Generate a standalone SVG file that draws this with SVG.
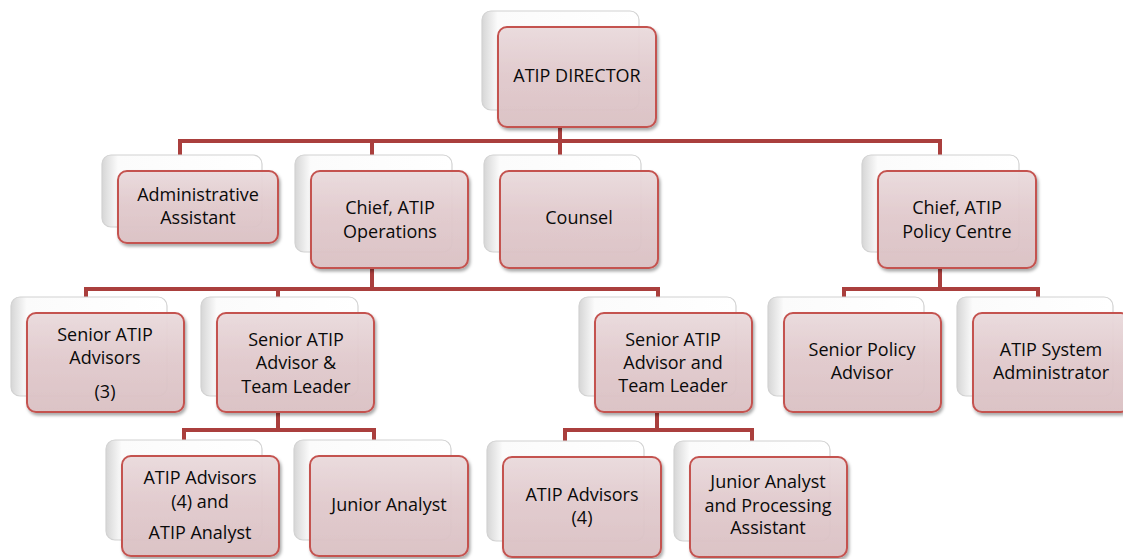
<svg xmlns="http://www.w3.org/2000/svg" width="1123" height="559" viewBox="0 0 1123 559">
<defs>
<linearGradient id="gFront" x1="0" y1="0" x2="0" y2="1">
<stop offset="0" stop-color="#ecdcde"/>
<stop offset="0.45" stop-color="#e3cccf"/>
<stop offset="1" stop-color="#dcc2c5"/>
</linearGradient>
<linearGradient id="gBack" x1="0" y1="0" x2="1" y2="0">
<stop offset="0" stop-color="#d6d6d6"/>
<stop offset="0.1" stop-color="#fbfbfb"/>
<stop offset="1" stop-color="#ffffff"/>
</linearGradient>
<filter id="sh" x="-10%" y="-10%" width="125%" height="130%">
<feDropShadow dx="1.5" dy="2.5" stdDeviation="1.8" flood-color="#000" flood-opacity="0.35"/>
</filter>
<style>
.back{fill:url(#gBack);stroke:#d2d2d2;stroke-width:1.2}
.front{fill:url(#gFront);fill-opacity:0.93;stroke:#c4524f;stroke-width:2;filter:url(#sh)}
.t{font-family:"Open Sans","Liberation Sans",sans-serif;font-size:18px;fill:#0a0a0a;text-anchor:middle}
.c{fill:none;stroke:#aa3f3d;stroke-width:4;stroke-linejoin:miter}
</style>
</defs>
<rect width="1123" height="559" fill="#ffffff"/>
<g id="connectors">
<path class="c" d="M560 127V141M180 155V141H940V155M372 141V155M560 141V155"/>
<path class="c" d="M372 268V289M86 297V289H658V297M278 289V297"/>
<path class="c" d="M940 268V289M844 297V289H1038V297"/>
<path class="c" d="M278 412V430M184 440V430H374V440"/>
<path class="c" d="M657 412V430M565 441V430H752V441"/>
</g>
<g id="n-director">
<rect class="back" x="482" y="11" width="157" height="99" rx="9"/>
<rect class="front" x="498" y="27" width="158" height="100" rx="9"/>
<text class="t" x="577" y="82">ATIP DIRECTOR</text>
</g>
<g id="n-admin">
<rect class="back" x="102" y="155" width="160" height="72" rx="9"/>
<rect class="front" x="118" y="171" width="160" height="72" rx="9"/>
<text class="t" x="198" y="201">Administrative</text>
<text class="t" x="198" y="224">Assistant</text>
</g>
<g id="n-chief-ops">
<rect class="back" x="295" y="155" width="157" height="97" rx="9"/>
<rect class="front" x="311" y="171" width="157" height="97" rx="9"/>
<text class="t" x="390" y="214">Chief, ATIP</text>
<text class="t" x="390" y="238">Operations</text>
</g>
<g id="n-counsel">
<rect class="back" x="484" y="155" width="157" height="97" rx="9"/>
<rect class="front" x="500" y="171" width="158" height="97" rx="9"/>
<text class="t" x="579" y="224">Counsel</text>
</g>
<g id="n-chief-policy">
<rect class="back" x="862" y="155" width="157" height="97" rx="9"/>
<rect class="front" x="878" y="171" width="158" height="97" rx="9"/>
<text class="t" x="957" y="214">Chief, ATIP</text>
<text class="t" x="957" y="238">Policy Centre</text>
</g>
<g id="n-senior-advisors">
<rect class="back" x="11" y="297" width="156" height="99" rx="9"/>
<rect class="front" x="27" y="313" width="157" height="99" rx="9"/>
<text class="t" x="105" y="341">Senior ATIP</text>
<text class="t" x="105" y="364">Advisors</text>
<text class="t" x="105" y="398">(3)</text>
</g>
<g id="n-tl-left">
<rect class="back" x="201" y="297" width="157" height="99" rx="9"/>
<rect class="front" x="217" y="313" width="157" height="99" rx="9"/>
<text class="t" x="296" y="346">Senior ATIP</text>
<text class="t" x="296" y="369">Advisor &amp;</text>
<text class="t" x="296" y="393">Team Leader</text>
</g>
<g id="n-tl-right">
<rect class="back" x="579" y="297" width="157" height="99" rx="9"/>
<rect class="front" x="595" y="313" width="157" height="99" rx="9"/>
<text class="t" x="673" y="346">Senior ATIP</text>
<text class="t" x="673" y="369">Advisor and</text>
<text class="t" x="673" y="392">Team Leader</text>
</g>
<g id="n-senior-policy">
<rect class="back" x="768" y="297" width="156" height="99" rx="9"/>
<rect class="front" x="784" y="313" width="157" height="99" rx="9"/>
<text class="t" x="862" y="356">Senior Policy</text>
<text class="t" x="862" y="379">Advisor</text>
</g>
<g id="n-system-admin">
<rect class="back" x="957" y="297" width="156" height="99" rx="9"/>
<rect class="front" x="973" y="313" width="157" height="99" rx="9"/>
<text class="t" x="1051" y="356">ATIP System</text>
<text class="t" x="1051" y="379">Administrator</text>
</g>
<g id="n-advisors-analyst">
<rect class="back" x="106" y="440" width="156" height="100" rx="9"/>
<rect class="front" x="122" y="456" width="157" height="100" rx="9"/>
<text class="t" x="200" y="484">ATIP Advisors</text>
<text class="t" x="200" y="508">(4) and</text>
<text class="t" x="200" y="539">ATIP Analyst</text>
</g>
<g id="n-junior-left">
<rect class="back" x="294" y="440" width="157" height="100" rx="9"/>
<rect class="front" x="310" y="456" width="158" height="100" rx="9"/>
<text class="t" x="389" y="511">Junior Analyst</text>
</g>
<g id="n-advisors-right">
<rect class="back" x="487" y="441" width="157" height="100" rx="9"/>
<rect class="front" x="503" y="457" width="158" height="100" rx="9"/>
<text class="t" x="582" y="501">ATIP Advisors</text>
<text class="t" x="582" y="524">(4)</text>
</g>
<g id="n-junior-processing">
<rect class="back" x="674" y="441" width="156" height="100" rx="9"/>
<rect class="front" x="690" y="457" width="157" height="100" rx="9"/>
<text class="t" x="768" y="488">Junior Analyst</text>
<text class="t" x="768" y="512">and Processing</text>
<text class="t" x="768" y="534">Assistant</text>
</g>
</svg>
